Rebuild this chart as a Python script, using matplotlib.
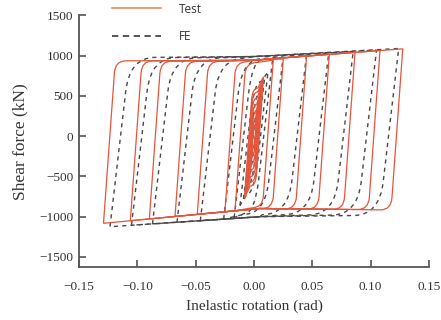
import numpy as np
import matplotlib
matplotlib.use("Agg")
import matplotlib.pyplot as plt
from matplotlib.path import Path
from matplotlib.patches import PathPatch
from matplotlib.lines import Line2D

# -----------------------------------------------------------------
# Data (one entry per hysteresis cycle)
# -----------------------------------------------------------------
# Test: peak points of each cycle and the yield levels at the rounded corners
test_rot_neg = [-0.0025, -0.0035, -0.0045, -0.0055, -0.0065, -0.0075, -0.0082,
                -0.0163, -0.0249, -0.0486, -0.0677, -0.0897, -0.106, -0.129]
test_force_neg = [-330, -420, -520, -600, -670, -730, -770,
                  -927, -939, -970, -997, -1027, -1050, -1082]
test_rot_pos = [0.0025, 0.0035, 0.0045, 0.0055, 0.0065, 0.0075, 0.0082,
                0.0165, 0.0251, 0.0451, 0.0646, 0.0866, 0.108, 0.1275]
test_force_pos = [320, 400, 490, 570, 640, 700, 740,
                  945, 960, 1000, 1020, 1043, 1066, 1086]
test_force_tl = [150, 230, 320, 400, 480, 550, 600,
                 915, 925, 930, 930, 932, 935, 937]
test_force_br = [-160, -240, -340, -420, -500, -570, -620,
                 -890, -900, -905, -905, -908, -910, -915]
test_knee_top = (0.0, 945)
test_knee_bot = (0.005, -898)

# FE
fe_rot_neg = [-0.006, -0.009, -0.012, -0.017, -0.026, -0.046, -0.066, -0.087, -0.105, -0.1234]
fe_force_neg = [-650, -780, -860, -1010, -1030, -1050, -1070, -1090, -1106, -1124]
fe_rot_pos = [0.006, 0.009, 0.012, 0.016, 0.025, 0.045, 0.064, 0.085, 0.105, 0.124]
fe_force_pos = [600, 720, 800, 960, 985, 1010, 1030, 1050, 1070, 1090]
fe_force_tl = [450, 580, 680, 950, 965, 970, 975, 975, 978, 980]
fe_force_br = [-500, -620, -720, -960, -970, -975, -975, -978, -980, -985]
fe_knee_top = (0.0, 990)
fe_knee_bot = (0.005, -1000)

xticks = [-0.15, -0.10, -0.05, 0.00, 0.05, 0.10, 0.15]
xticklabels = ['\u22120.15', '\u22120.10', '\u22120.05', '0.00', '0.05', '0.10', '0.15']
yticks = [-1500, -1000, -500, 0, 500, 1000, 1500]
yticklabels = ['\u22121500', '\u22121000', '\u2212500', '0', '500', '1000', '1500']

RED = '#e4553b'
DARK = '#484848'


def loop_path(xn, Fn, xp, Fp, F_tl, F_br, knee_top, knee_bot, lean, rx, ry):
    """Closed cycle: sharp corners at the peaks, rounded corners at yield."""
    xc1 = xn + lean * (F_tl - Fn)
    xc2 = xp - lean * (Fp - F_br)
    rx1 = min(rx, 0.5 * (xp - xc1))
    rx2 = min(rx, 0.5 * (xc2 - xn))
    ry1 = min(ry, 0.6 * (F_tl - Fn))
    ry2 = min(ry, 0.6 * (Fp - F_br))
    verts = [(xn, Fn), (xc1 - lean * ry1, F_tl - ry1), (xc1, F_tl), (xc1 + rx1, F_tl)]
    codes = [Path.MOVETO, Path.LINETO, Path.CURVE3, Path.CURVE3]
    if xc1 + rx1 < knee_top[0] < xp - 0.01:
        verts.append(knee_top)
        codes.append(Path.LINETO)
    verts += [(xp, Fp), (xc2 + lean * ry2, F_br + ry2), (xc2, F_br), (xc2 - rx2, F_br)]
    codes += [Path.LINETO, Path.LINETO, Path.CURVE3, Path.CURVE3]
    if xn + 0.01 < knee_bot[0] < xc2 - rx2:
        verts.append(knee_bot)
        codes.append(Path.LINETO)
    verts.append((xn, Fn))
    codes.append(Path.LINETO)
    return Path(verts, codes)


fig = plt.figure(figsize=(4.41, 3.2), dpi=100)
ax = fig.add_axes([79 / 441, 53 / 320, 350 / 441, 251.5 / 320])

# FE loops (dashed)
for i in range(len(fe_rot_neg)):
    p = loop_path(fe_rot_neg[i], fe_force_neg[i], fe_rot_pos[i], fe_force_pos[i],
                  fe_force_tl[i], fe_force_br[i], fe_knee_top, fe_knee_bot,
                  lean=8e-6, rx=0.022, ry=420)
    ax.add_patch(PathPatch(p, fill=False, edgecolor=DARK, lw=1.0,
                           linestyle=(0, (3, 3)), zorder=2))

# Test loops (solid red)
for i in range(len(test_rot_neg)):
    p = loop_path(test_rot_neg[i], test_force_neg[i], test_rot_pos[i], test_force_pos[i],
                  test_force_tl[i], test_force_br[i], test_knee_top, test_knee_bot,
                  lean=5e-6, rx=0.009, ry=150)
    ax.add_patch(PathPatch(p, fill=False, edgecolor=RED, lw=0.9, zorder=3))

ax.set_xlim(-0.15, 0.15)
ax.set_ylim(-1625, 1500)

serif = 'Liberation Serif'
ax.set_xticks(xticks)
ax.set_xticklabels(xticklabels, family=serif, fontsize=9.5, color='#333333')
ax.set_yticks(yticks)
ax.set_yticklabels(yticklabels, family=serif, fontsize=9.5, color='#333333')
ax.tick_params(direction='in', length=5, width=1.2, color='#555555', pad=4)
ax.tick_params(axis='x', pad=10)

for side in ['top', 'right']:
    ax.spines[side].set_visible(False)
for side in ['left', 'bottom']:
    ax.spines[side].set_color('#555555')
    ax.spines[side].set_linewidth(1.3)

ax.set_xlabel('Inelastic rotation (rad)', family=serif, fontsize=11, color='#333333')
ax.set_ylabel('Shear force (kN)', family=serif, fontsize=12.5, color='#333333')
ax.xaxis.set_label_coords(0.5, -0.128)
ax.yaxis.set_label_coords(-0.146, 0.5)

handles = [Line2D([], [], color='#ee8860', lw=1.2),
           Line2D([], [], color=DARK, lw=1.3, linestyle=(0, (3.5, 2.5)))]
leg = fig.legend(handles, ['Test', 'FE'], loc='upper left',
                 bbox_to_anchor=(101 / 441, 1.0 + 8 / 320), frameon=False,
                 prop={'family': 'Open Sans', 'size': 8.5},
                 handlelength=4.2, handletextpad=1.5, labelspacing=1.2)
for t in leg.get_texts():
    t.set_color('#333333')

fig.savefig('out.png', dpi=100)
